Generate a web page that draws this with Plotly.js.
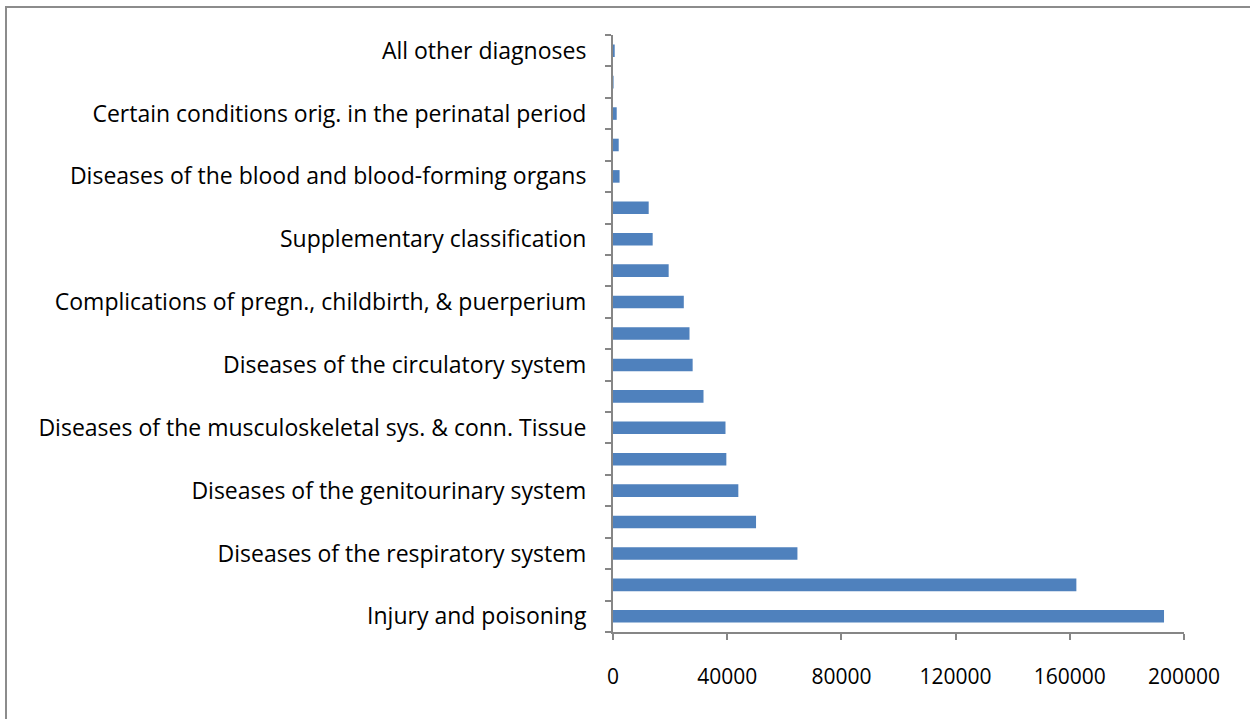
<!DOCTYPE html>
<html>
<head>
<meta charset="utf-8">
<script src="https://cdn.plot.ly/plotly-3.0.1.min.js"></script>
<style>
  html, body { margin: 0; padding: 0; background: #ffffff; overflow: hidden; }
  #chart { position: absolute; left: 0; top: 0; width: 1250px; height: 719px; }
  #frame { position: absolute; left: 5px; top: 6px; width: 1300px; height: 800px;
           border-left: 2px solid #8c8c8c; border-top: 2px solid #8c8c8c; pointer-events: none; }
</style>
</head>
<body>
<div id="chart"></div>
<div id="frame"></div>
<script>
// Categories from bottom to top
const categories = [
  "Injury and poisoning",
  "Symptoms, signs, and ill-defined conditions",
  "Diseases of the respiratory system",
  "Diseases of the digestive system",
  "Diseases of the genitourinary system",
  "Diseases of the nervous system and sense organs",
  "Diseases of the musculoskeletal sys. & conn. Tissue",
  "Diseases of the skin and subcutaneous tissue",
  "Diseases of the circulatory system",
  "Mental disorders",
  "Complications of pregn., childbirth, & puerperium",
  "Infectious and parasitic diseases",
  "Supplementary classification",
  "Endocrine, nutritional and metabolic diseases",
  "Diseases of the blood and blood-forming organs",
  "Neoplasms",
  "Certain conditions orig. in the perinatal period",
  "Congenital anomalies",
  "All other diagnoses"
];
const values = [193000, 162300, 64600, 50100, 43900, 39700, 39400, 31700, 27900, 26800,
                24800, 19500, 13900, 12500, 2300, 2000, 1300, 200, 600];
// Only every other category label is shown on the axis
const shownLabels = categories.map((c, i) => (i % 2 === 0 ? c : ""));
const xTicks = [0, 40000, 80000, 120000, 160000, 200000];

const axisColor = "#868686";
const labelFont = "'Open Sans', Lato, sans-serif";
const numFont = "'Open Sans', Lato, sans-serif";

const trace = {
  type: "bar",
  orientation: "h",
  x: values,
  y: categories,
  marker: { color: "#4F81BD", line: { width: 0 } },
  hoverinfo: "x+y"
};

const layout = {
  width: 1250,
  height: 719,
  margin: { l: 613, r: 66, t: 35, b: 87, pad: 0 },
  paper_bgcolor: "rgba(0,0,0,0)",
  plot_bgcolor: "rgba(0,0,0,0)",
  bargap: 0.6,
  showlegend: false,
  font: { family: labelFont, size: 23, color: "#000000" },
  xaxis: {
    range: [0, 200000],
    tickmode: "array",
    tickvals: xTicks,
    ticktext: xTicks.map(String),
    showgrid: false,
    zeroline: false,
    showline: true,
    linecolor: axisColor,
    linewidth: 2,
    ticks: "outside",
    ticklen: 6,
    tickwidth: 2,
    tickcolor: axisColor,
    ticklabelstandoff: 19,
    tickfont: { family: numFont, size: 21, color: "#000000" }
  },
  yaxis: {
    type: "category",
    categoryorder: "array",
    categoryarray: categories,
    range: [-0.5, categories.length - 0.5],
    tickmode: "array",
    tickvals: categories,
    ticktext: shownLabels,
    tickson: "boundaries",
    showgrid: false,
    zeroline: false,
    showline: true,
    linecolor: axisColor,
    linewidth: 2,
    ticks: "outside",
    ticklen: 6,
    tickwidth: 2,
    tickcolor: axisColor,
    ticklabelstandoff: 20,
    tickfont: { family: labelFont, size: 23, color: "#000000" }
  }
};

Plotly.newPlot("chart", [trace], layout, { displayModeBar: false, staticPlot: true });
</script>
</body>
</html>
